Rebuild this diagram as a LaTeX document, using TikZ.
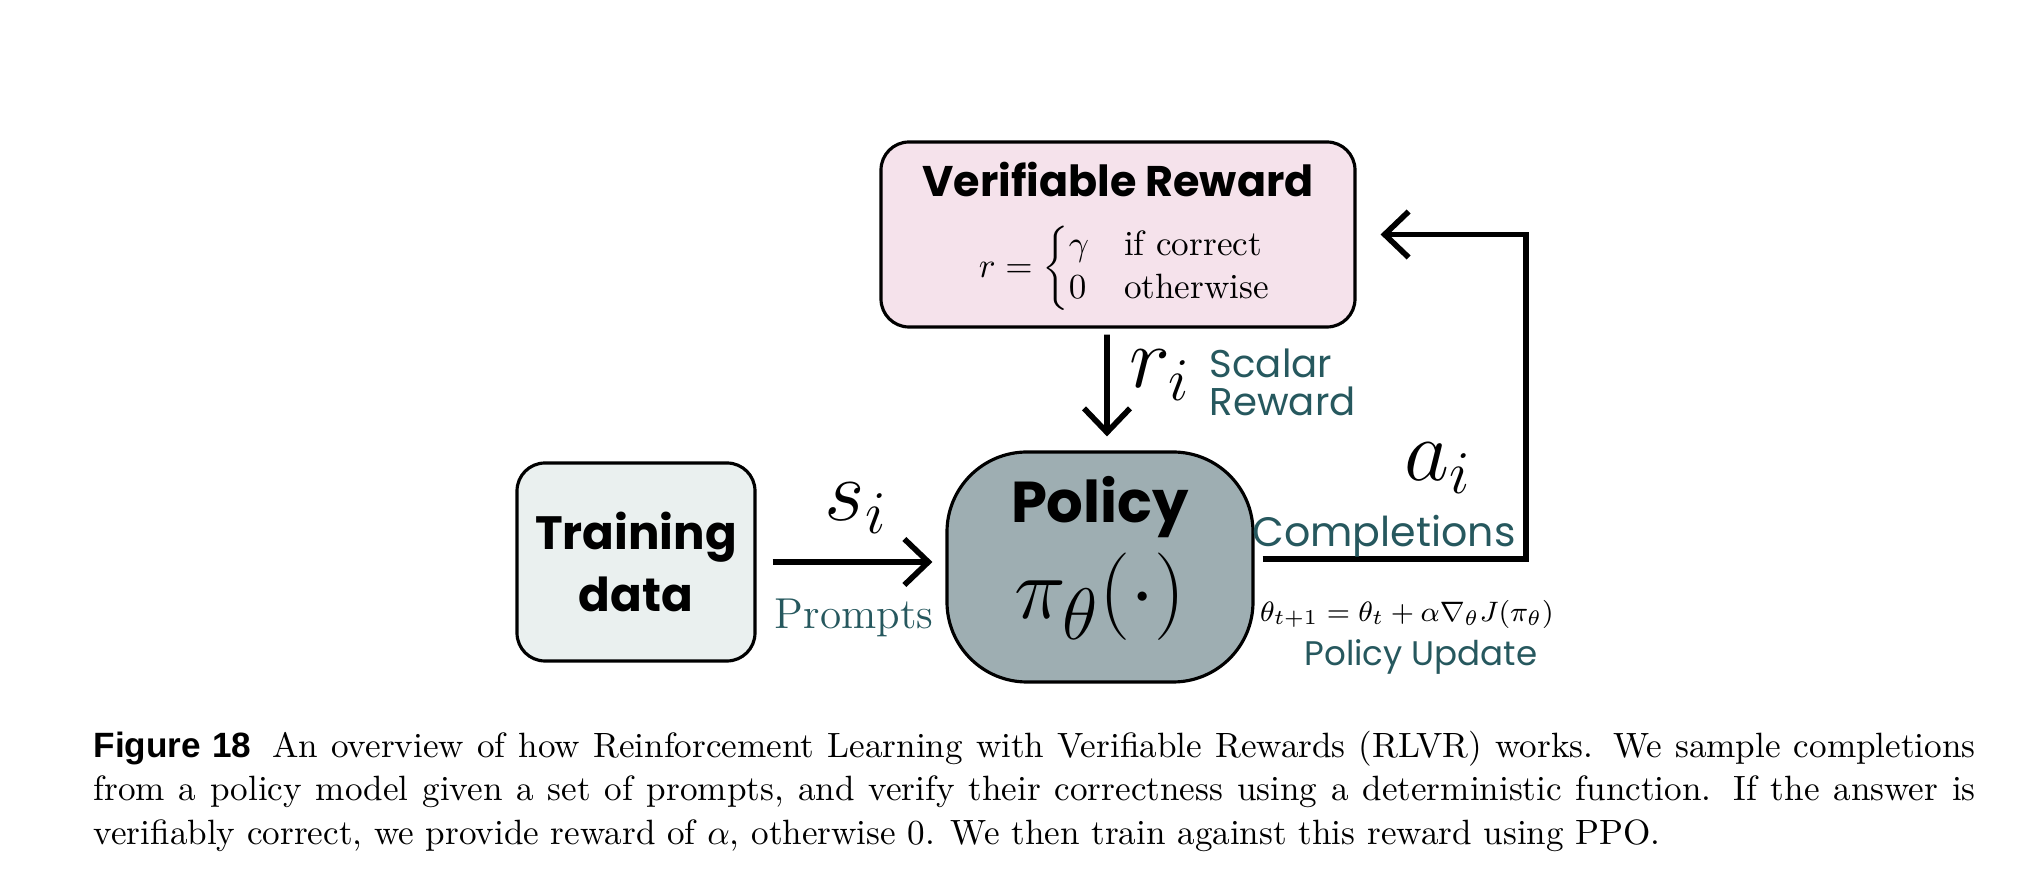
\documentclass[tikz,border=0pt]{standalone}
\usepackage{amsmath}
\usepackage{fontspec}
\usepackage{tikz}
\usetikzlibrary{arrows.meta,positioning}
\newfontfamily\diafont{Poppins}
\newfontfamily\capsans{Liberation Sans}
\definecolor{rewardpink}{RGB}{245,226,235}
\definecolor{datagrey}{RGB}{234,240,239}
\definecolor{policygrey}{RGB}{158,174,178}
\definecolor{labelteal}{RGB}{38,88,94}
\tikzset{
  block/.style    = {draw=black,line width=0.9pt,rounded corners=0.28cm,inner sep=0pt},
  flowarr/.style  = {-{Straight Barb[length=2.4mm,width=4.6mm]},line width=1.6pt},
  headtxt/.style 2 args = {inner sep=0pt,font={\diafont\bfseries\fontsize{#1}{#2}\selectfont}},
  tealtxt/.style 2 args = {inner sep=0pt,text=labelteal,font={\diafont\fontsize{#1}{#2}\selectfont}},
  mathtxt/.style  = {inner sep=0pt,font={\fontsize{#1}{#1}\selectfont}}
}
\newcommand{\Rcases}{r = \begin{cases}\gamma & \text{if correct}\\ 0 & \text{otherwise}\end{cases}}

\begin{document}
\begin{tikzpicture}
  \useasboundingbox (0,0) rectangle (20.28,8.86);
  % reward box
  \node[block,fill=rewardpink,minimum width=4.74cm,minimum height=1.85cm] (vreward) at (11.18,6.515) {};
  \node[headtxt={12.2}{14}] (vtitle) at ([yshift=0.55cm]vreward.center) {Verifiable Reward};
  \node[mathtxt=10] (vrule) at ([xshift=0.08cm,yshift=-0.34cm]vreward.center) {$\Rcases$};
  % data and policy
  \node[block,fill=datagrey,minimum width=2.38cm,minimum height=1.98cm,
        align=center,headtxt={13.3}{17.6}] (tdata) at (6.36,3.24) {Training\\data};
  \node[block,fill=policygrey,rounded corners=0.8cm,minimum width=3.06cm,
        minimum height=2.30cm] (policy) at (11.00,3.19) {};
  \node[headtxt={16.4}{18}] (ptitle) at ([yshift=0.6cm]policy.center) {Policy};
  \node[mathtxt=31] (pfunc) at ([yshift=-0.3cm]policy.center) {$\pi_\theta(\cdot)$};
  % prompts
  \draw[flowarr,shorten <=0.16cm,shorten >=0.13cm] (tdata.east) -- (tdata.east -| policy.west);
  \node[mathtxt=26] (slabel) at (8.56,3.78) {$s_i$};
  \node[inner sep=0pt,text=labelteal,font=\fontsize{12.3}{14}\selectfont] (prompts) at (8.54,2.68) {Prompts};
  % scalar reward
  \draw[flowarr,shorten <=0.06cm,shorten >=0.14cm] ([xshift=-0.11cm]vreward.south) -- ([xshift=0.07cm]policy.north);
  \node[mathtxt=23] (rlabel) at (11.60,5.11) {$r_i$};
  \node[tealtxt={11}{10.8},anchor=west,align=left] (scalar) at (12.09,5.04) {Scalar\\Reward};
  % completions loop
  \coordinate (loopx) at (15.26,0);
  \coordinate (cstart) at ([yshift=0.08cm]policy.east);
  \draw[flowarr,shorten <=0.08cm,shorten >=0.24cm] (cstart) -| (loopx |- vreward.east) -- (vreward.east);
  \node[mathtxt=26] (alabel) at (14.38,4.18) {$a_i$};
  \node[tealtxt={11.7}{14}] (compl) at (13.84,3.50) {Completions};
  \node[mathtxt=8.3] (update) at (14.07,2.72) {$\theta_{t+1} = \theta_t + \alpha\nabla_\theta J(\pi_\theta)$};
  \node[tealtxt={9.7}{12}] (updlabel) at (14.21,2.29) {Policy Update};
  % caption
  \node[anchor=north west,inner sep=0pt,text width=18.82cm,align=justify,
        font=\fontsize{10}{12.5}\selectfont] (caption) at (0.93,1.56)
    {{\capsans\bfseries Figure 18}\hspace{0.6em}An overview of how Reinforcement Learning with Verifiable Rewards (RLVR) works. We sample completions\linebreak
     from a policy model given a set of prompts, and verify their correctness using a deterministic function. If the answer is\linebreak
     verifiably correct, we provide reward of $\alpha$, otherwise 0. We then train against this reward using PPO.};
\end{tikzpicture}
\end{document}
